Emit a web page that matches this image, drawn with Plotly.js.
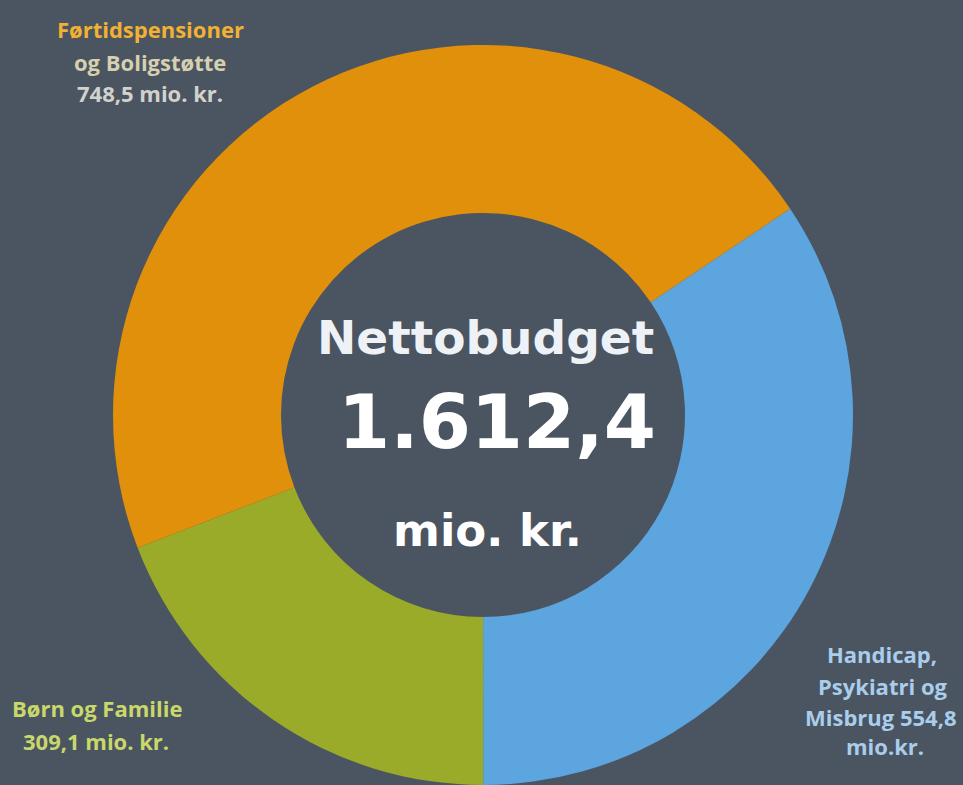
<!DOCTYPE html>
<html>
<head>
<meta charset="utf-8">
<script src="https://cdn.plot.ly/plotly-3.0.1.min.js"></script>
<style>
html,body{margin:0;padding:0;background:#4b5562;overflow:hidden;width:963px;height:785px;}
#chart{width:963px;height:785px;}
</style>
</head>
<body>
<div id="chart"></div>
<script>
// Data
const categories = ["Handicap, Psykiatri og Misbrug", "Børn og Familie", "Førtidspensioner og Boligstøtte"];
const values = [554.8, 309.1, 748.5];
const totalLabel = "1.612,4";
const centerTitle = "Nettobudget";
const unitLabel = "mio. kr.";

const colors = ["#5ca5df", "#9aab2a", "#e0900a"];
const W = 963, H = 785;
function px(p){ return p / W; }
function py(p){ return 1 - p / H; }

const trace = {
  type: "pie",
  labels: categories,
  values: values,
  sort: false,
  direction: "clockwise",
  rotation: 56.1,
  hole: 0.546,
  textinfo: "none",
  hoverinfo: "none",
  marker: {colors: colors, line: {width: 0}},
  domain: {x: [px(113), px(853)], y: [0, py(45)]},
  showlegend: false
};

const lab = {family: "'Open Sans', Lato, sans-serif", size: 22, weight: 700};
const big = "'DejaVu Sans', Verdana, sans-serif";
const ann = [
  {text: "<b>" + centerTitle + "</b>", x: px(486), y: py(337), font: {family: big, size: 47, color: "#eef2f7"}},
  {text: "<b>" + totalLabel + "</b>", x: px(497), y: py(422), font: {family: big, size: 75, color: "#ffffff"}},
  {text: "<b>" + unitLabel + "</b>", x: px(487), y: py(530), font: {family: big, size: 45, color: "#ffffff"}},
  {text: "<b>Førtidspensioner</b>", x: px(150), y: py(29), font: Object.assign({}, lab, {color: "#f1b133"})},
  {text: "<b>og Boligstøtte</b>", x: px(150), y: py(62), font: Object.assign({}, lab, {color: "#d6d0b0"})},
  {text: "<b>" + "748,5 " + unitLabel + "</b>", x: px(150), y: py(93), font: Object.assign({}, lab, {color: "#d2d2cc"})},
  {text: "<b>Børn og Familie</b>", x: px(97), y: py(708), font: Object.assign({}, lab, {color: "#c8d86a"})},
  {text: "<b>" + "309,1 " + unitLabel + "</b>", x: px(96), y: py(741), font: Object.assign({}, lab, {color: "#c8d86a"})},
  {text: "<b>Handicap,</b>", x: px(882), y: py(654), font: Object.assign({}, lab, {color: "#a9cdeb"})},
  {text: "<b>Psykiatri og</b>", x: px(882), y: py(686), font: Object.assign({}, lab, {color: "#a9cdeb"})},
  {text: "<b>Misbrug " + "554,8" + "</b>", x: px(881), y: py(717), font: Object.assign({}, lab, {color: "#a9cdeb"})},
  {text: "<b>mio.kr.</b>", x: px(885), y: py(746), font: Object.assign({}, lab, {color: "#a9cdeb"})}
].map(a => Object.assign({xref: "paper", yref: "paper", showarrow: false, xanchor: "center", yanchor: "middle"}, a));

const layout = {
  width: W, height: H,
  margin: {l: 0, r: 0, t: 0, b: 0},
  paper_bgcolor: "#4b5562",
  plot_bgcolor: "#4b5562",
  annotations: ann,
  showlegend: false
};

Plotly.newPlot("chart", [trace], layout, {displayModeBar: false, staticPlot: true});
</script>
</body>
</html>
